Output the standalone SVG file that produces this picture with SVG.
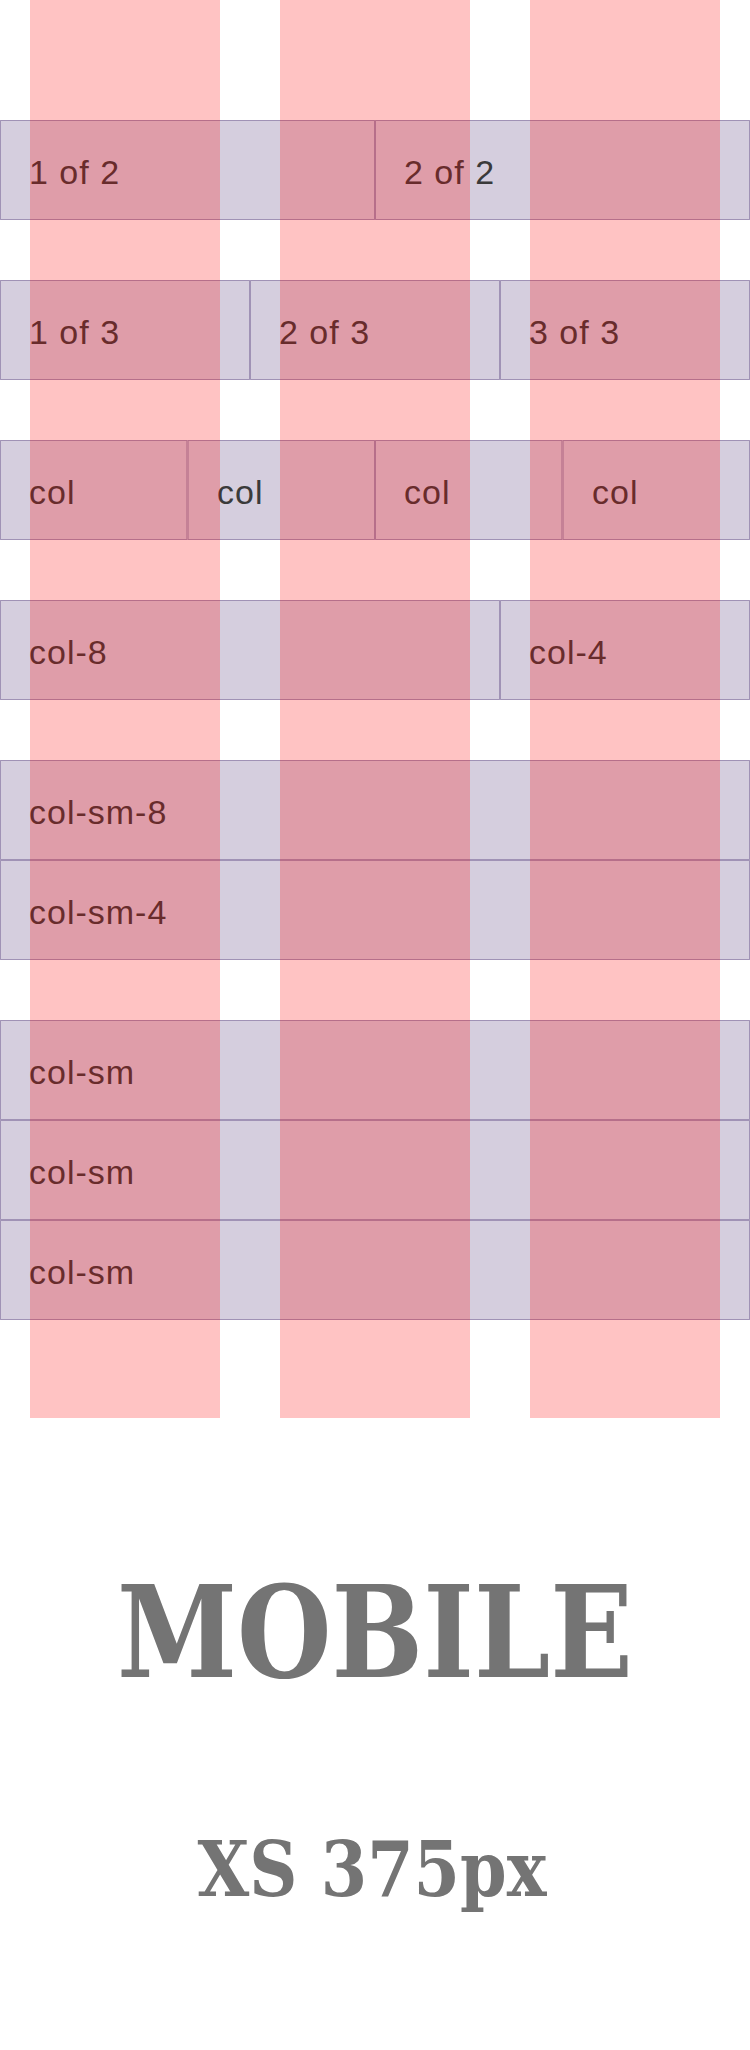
<svg xmlns="http://www.w3.org/2000/svg" width="750" height="2050" viewBox="0 0 750 2050">
  <style>
    .cell { fill: rgba(86,61,124,0.25); stroke: rgba(86,61,124,0.5); stroke-width: 1; }
    .lbl { font-family: "Liberation Sans", Arial, sans-serif; font-size: 34px; letter-spacing: 1px; fill: #3a3a3a; }
    .gcol { fill: rgba(255,0,0,0.235); }
    .title { font-family: "DejaVu Serif", serif; font-weight: bold; fill: #747474; text-anchor: middle; }
  </style>
  <rect x="0" y="0" width="750" height="2050" fill="#ffffff"/>

  <g id="row-halves">
    <rect class="cell" x="0.5" y="120.5" width="374" height="99"/>
    <rect class="cell" x="375.5" y="120.5" width="374" height="99"/>
    <text class="lbl" x="29" y="184">1 of 2</text>
    <text class="lbl" x="404" y="184">2 of 2</text>
  </g>

  <g id="row-thirds">
    <rect class="cell" x="0.5" y="280.5" width="249" height="99"/>
    <rect class="cell" x="250.5" y="280.5" width="249" height="99"/>
    <rect class="cell" x="500.5" y="280.5" width="249" height="99"/>
    <text class="lbl" x="29" y="344">1 of 3</text>
    <text class="lbl" x="279" y="344">2 of 3</text>
    <text class="lbl" x="529" y="344">3 of 3</text>
  </g>

  <g id="row-quarters">
    <rect class="cell" x="0.5" y="440.5" width="186.5" height="99"/>
    <rect class="cell" x="188" y="440.5" width="186.5" height="99"/>
    <rect class="cell" x="375.5" y="440.5" width="186.5" height="99"/>
    <rect class="cell" x="563" y="440.5" width="186.5" height="99"/>
    <text class="lbl" x="29" y="504">col</text>
    <text class="lbl" x="217" y="504">col</text>
    <text class="lbl" x="404" y="504">col</text>
    <text class="lbl" x="592" y="504">col</text>
  </g>

  <g id="row-8-4">
    <rect class="cell" x="0.5" y="600.5" width="499" height="99"/>
    <rect class="cell" x="500.5" y="600.5" width="249" height="99"/>
    <text class="lbl" x="29" y="664">col-8</text>
    <text class="lbl" x="529" y="664">col-4</text>
  </g>

  <g id="row-sm-8-4">
    <rect class="cell" x="0.5" y="760.5" width="749" height="99"/>
    <rect class="cell" x="0.5" y="860.5" width="749" height="99"/>
    <text class="lbl" x="29" y="824">col-sm-8</text>
    <text class="lbl" x="29" y="924">col-sm-4</text>
  </g>

  <g id="row-sm">
    <rect class="cell" x="0.5" y="1020.5" width="749" height="99"/>
    <rect class="cell" x="0.5" y="1120.5" width="749" height="99"/>
    <rect class="cell" x="0.5" y="1220.5" width="749" height="99"/>
    <text class="lbl" x="29" y="1084">col-sm</text>
    <text class="lbl" x="29" y="1184">col-sm</text>
    <text class="lbl" x="29" y="1284">col-sm</text>
  </g>

  <g id="grid-columns">
    <rect class="gcol" x="30" y="0" width="190" height="1418"/>
    <rect class="gcol" x="280" y="0" width="190" height="1418"/>
    <rect class="gcol" x="530" y="0" width="190" height="1418"/>
  </g>

  <g id="title">
    <text class="title" x="375" y="1677" font-size="128" textLength="516" lengthAdjust="spacingAndGlyphs">MOBILE</text>
  </g>
  <g id="subtitle">
    <text class="title" x="372" y="1896" font-size="76" textLength="349" lengthAdjust="spacingAndGlyphs">XS 375px</text>
  </g>
</svg>
